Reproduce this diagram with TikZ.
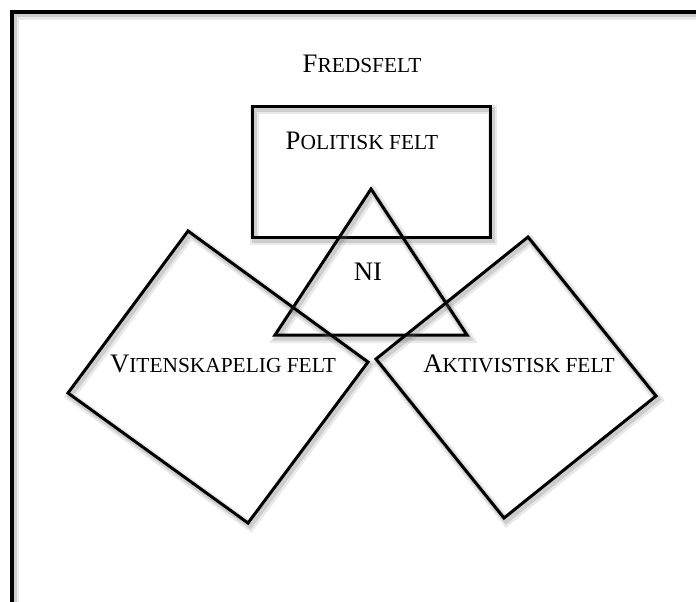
\documentclass[tikz,border=0pt]{standalone}
\usepackage{fontspec}
\setmainfont{Liberation Serif}
\newcommand{\fakesc}[2]{{\fontsize{26.7}{30}\selectfont #1\fontsize{21.4}{30}\selectfont #2}}
\begin{document}
\begin{tikzpicture}[x=1pt,y=-1pt,
  shadowed/.style={draw=black, line width=3pt, line join=miter,
    preaction={draw=black!60, opacity=0.14, line width=9pt, transform canvas={shift={(2.5pt,-3.5pt)}}},
    preaction={draw=black!60, opacity=0.22, line width=5pt, transform canvas={shift={(2pt,-3pt)}}}},
  lbl/.style={anchor=base, inner sep=0pt, font=\fontsize{26.7}{30}\selectfont}]
\useasboundingbox (0,0) rectangle (696,602);
\clip (0,0) rectangle (696,602);
% outer frame
\coordinate (f1) at (12,12);
\coordinate (f2) at (730,640);
\draw[shadowed, line width=4pt] (f1) rectangle (f2);
% politisk rectangle
\coordinate (p1) at (252,106);
\coordinate (p2) at (490,237);
\draw[shadowed] (p1) rectangle (p2);
% triangle NI
\coordinate (t1) at (371,189);
\coordinate (t2) at (275,335);
\coordinate (t3) at (467,335);
\draw[shadowed] (t1) -- (t2) -- (t3) -- cycle;
% left diamond
\coordinate (v1) at (188,231);
\coordinate (v2) at (368,362);
\coordinate (v3) at (248,523);
\coordinate (v4) at (68,393);
\draw[shadowed] (v1) -- (v2) -- (v3) -- (v4) -- cycle;
% right diamond
\coordinate (a1) at (528,237);
\coordinate (a2) at (656,396);
\coordinate (a3) at (504,518);
\coordinate (a4) at (376,359);
\draw[shadowed] (a1) -- (a2) -- (a3) -- (a4) -- cycle;
% labels
\node[lbl] (fred) at (362,73) {\fakesc{F}{REDSFELT}};
\node[lbl] (pol) at (362,149) {\fakesc{P}{OLITISK FELT}};
\node[lbl] (ni) at (368,280) {NI};
\node[lbl] (vit) at (223,372) {\fakesc{V}{ITENSKAPELIG FELT}};
\node[lbl] (akt) at (519,372) {\fakesc{A}{KTIVISTISK FELT}};
\end{tikzpicture}
\end{document}
